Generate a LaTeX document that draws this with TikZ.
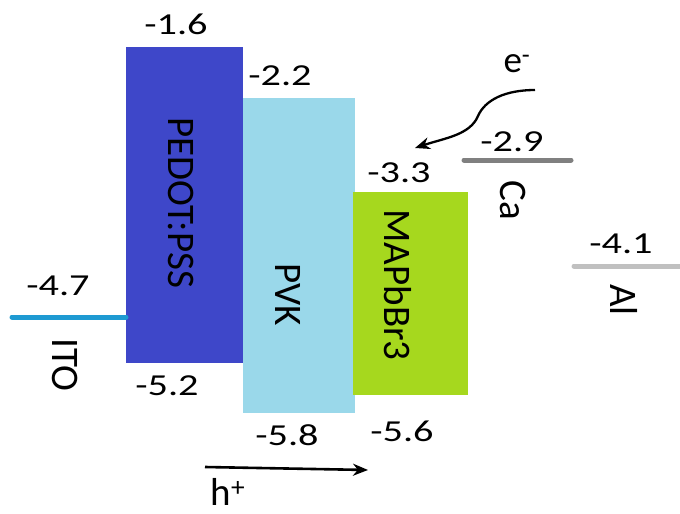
\documentclass[tikz,border=0pt]{standalone}
\usepackage{fontspec}
\setmainfont{Carlito}
\newfontfamily\widefont[FakeStretch=1.32]{Carlito}
\usetikzlibrary{arrows.meta}
\definecolor{pedotc}{HTML}{3E47C9}
\definecolor{pvkc}{HTML}{9AD8EA}
\definecolor{mapc}{HTML}{A6D81E}
\definecolor{itoc}{HTML}{1E9AD2}
\definecolor{cac}{HTML}{808080}
\definecolor{alc}{HTML}{C0C0C0}
\begin{document}
\begin{tikzpicture}[x=1pt,y=-1pt,
  lbl/.style={inner sep=0pt, font=\widefont\fontsize{30.5}{36}\selectfont},
  vlbl/.style={inner sep=0pt, rotate=-90, font=\fontsize{39}{44}\selectfont},
  band/.style={inner sep=0pt, draw=none, anchor=north west},
  level/.style={line width=5pt, line cap=round},
  flow/.style={line width=2.3pt, -{Stealth[length=15pt,width=12pt]}}]
\useasboundingbox (0,0) rectangle (680,514);
% bands
\node[band, fill=pedotc, minimum width=117pt, minimum height=316pt] (pedot) at (126,47) {};
\node[band, fill=pvkc, minimum width=112pt, minimum height=315pt] (pvk) at (243,98) {};
\node[band, fill=mapc, minimum width=115pt, minimum height=203pt] (mapb) at (353,192) {};
% electrode levels
\coordinate (itoL) at (12,317);
\draw[level, itoc] (itoL) -- (itoL -| pedot.west);
\coordinate (caL) at (464,160);
\coordinate (caR) at (571,160);
\draw[level, cac] (caL) -- (caR);
\coordinate (alL) at (574,266);
\coordinate (alR) at (682,266);
\draw[level, alc] (alL) -- (alR);
% labels
\node[lbl] (v16) at (176,24) {-1.6};
\node[lbl] (v22) at (280,76) {-2.2};
\node[lbl] (v47) at (58,286) {-4.7};
\node[lbl] (v52) at (167,386) {-5.2};
\node[lbl] (v58) at (287,435) {-5.8};
\node[lbl] (v56) at (402,431) {-5.6};
\node[lbl] (v33) at (399,173) {-3.3};
\node[lbl] (v29) at (512,142) {-2.9};
\node[lbl] (v41) at (621,244) {-4.1};
\node[vlbl] (ito) at (65,365) {ITO};
\node[vlbl] (pedott) at (181,203) {PEDOT:PSS};
\node[vlbl] (pvkt) at (288,295) {PVK};
\node[vlbl] (mapt) at (398,285) {MAPbBr3};
\node[vlbl] (cat) at (513,200) {Ca};
\node[vlbl] (alt) at (624,300) {Al};
% carriers
\node[inner sep=0pt, font=\fontsize{37}{40}\selectfont] (el) at (517,64) {e\textsuperscript{-}};
\coordinate (eS) at (535,90);
\coordinate (eT) at (415,148);
\draw[flow] (eS) .. controls (505,90) and (485,100) .. (478,116) .. controls (470,135) and (445,138) .. (eT);
\node[inner sep=0pt, font=\fontsize{39}{44}\selectfont] (ho) at (228,492) {h\textsuperscript{+}};
\coordinate (hS) at (205,467);
\coordinate (hT) at (368,470);
\draw[flow, line width=2.6pt] (hS) -- (hT);
\end{tikzpicture}
\end{document}
